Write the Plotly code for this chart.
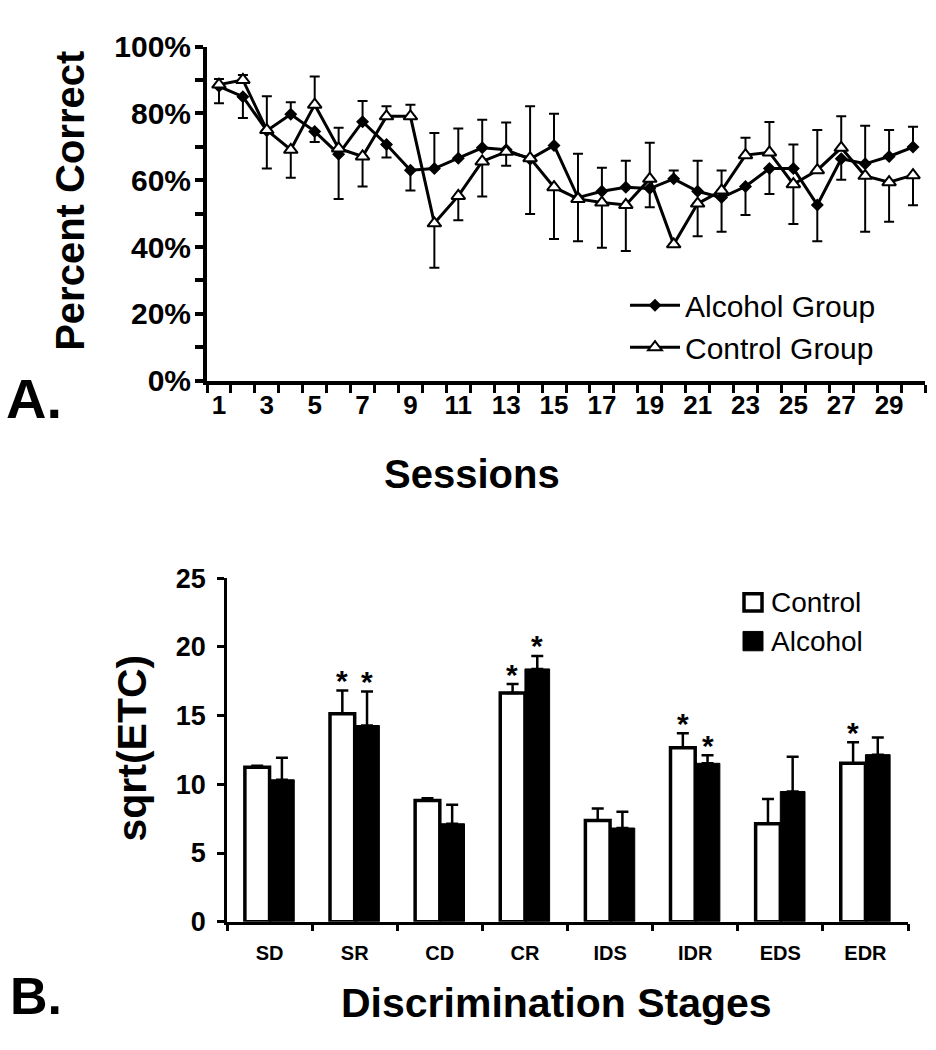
import plotly.graph_objects as go

W, H = 936, 1050
FONT = "Arial, 'Liberation Sans', sans-serif"


def px(x):
    return x / W


def py(y):
    return 1 - y / H


# ---------------- Panel A data ----------------
sessions = list(range(1, 31))
session_labels = list(range(1, 30, 2))
alcohol_pct = [88.1, 85.0, 74.8, 79.7, 74.6, 67.8, 77.5, 70.7, 63.0, 63.5,
               66.6, 69.7, 69.1, 66.3, 70.4, 54.8, 56.7, 57.9, 57.5, 60.4,
               56.7, 54.8, 58.1, 63.5, 63.5, 52.6, 66.4, 64.9, 67.1, 69.9]
control_pct = [88.6, 90.0, 75.0, 69.1, 82.6, 69.5, 67.1, 79.1, 79.1, 47.1,
               55.3, 65.6, 68.5, 66.6, 57.9, 54.4, 53.3, 52.6, 60.4, 40.8,
               53.0, 56.9, 67.5, 68.3, 58.8, 63.0, 69.7, 61.3, 59.4, 61.5]
alcohol_err = [5.1, 6.4, 11.3, 3.6, 3.2, 13.4, 6.2, 3.9, 6.1, 10.6,
               8.9, 8.4, 8.2, 16.4, 9.5, 13.1, 7.0, 7.9, 5.6, 2.5,
               9.1, 10.2, 8.5, 7.6, 7.2, 10.9, 6.3, 11.4, 7.9, 6.1]
control_err = [1.7, 1.5, 10.1, 8.4, 8.4, 6.2, 9.0, 3.0, 3.5, 13.3,
               7.3, 10.5, 4.2, 15.5, 15.5, 12.7, 13.5, 13.8, 10.8, 0.0,
               9.8, 6.0, 5.2, 9.1, 11.9, 12.0, 9.4, 16.7, 11.8, 9.0]

# ---------------- Panel B data ----------------
stages = ["SD", "SR", "CD", "CR", "IDS", "IDR", "EDS", "EDR"]
control_etc = [11.25, 15.13, 8.82, 16.64, 7.37, 12.66, 7.13, 11.53]
control_etc_err = [0.1, 1.7, 0.17, 0.66, 0.87, 1.06, 1.81, 1.53]
alcohol_etc = [10.33, 14.28, 7.13, 18.40, 6.82, 11.53, 9.48, 12.16]
alcohol_etc_err = [1.6, 2.47, 1.39, 0.94, 1.18, 0.59, 2.52, 1.25]
control_sig = [False, True, False, True, False, True, False, True]
alcohol_sig = [False, True, False, True, False, True, False, False]

# upper group shows upward error, lower group shows downward error
alc_plus = [e if a > c else 0 for a, c, e in zip(alcohol_pct, control_pct, alcohol_err)]
alc_minus = [e if a <= c else 0 for a, c, e in zip(alcohol_pct, control_pct, alcohol_err)]
con_plus = [e if c >= a else 0 for a, c, e in zip(alcohol_pct, control_pct, control_err)]
con_minus = [e if c < a else 0 for a, c, e in zip(alcohol_pct, control_pct, control_err)]

fig = go.Figure()

fig.add_trace(go.Scatter(
    x=sessions, y=alcohol_pct, mode="lines+markers", name="Alcohol Group",
    line=dict(color="black", width=3),
    marker=dict(symbol="diamond", size=10, color="black"),
    error_y=dict(type="data", symmetric=False, array=alc_plus, arrayminus=alc_minus,
                 color="black", thickness=2, width=5),
    xaxis="x", yaxis="y", cliponaxis=False,
))
fig.add_trace(go.Scatter(
    x=sessions, y=control_pct, mode="lines+markers", name="Control Group",
    line=dict(color="black", width=3),
    marker=dict(symbol="triangle-up", size=12, color="white",
                line=dict(color="black", width=2)),
    error_y=dict(type="data", symmetric=False, array=con_plus, arrayminus=con_minus,
                 color="black", thickness=2, width=5),
    xaxis="x", yaxis="y", cliponaxis=False,
))

fig.add_trace(go.Bar(
    x=stages, y=control_etc, name="Control", showlegend=False,
    marker=dict(color="white", line=dict(color="black", width=3.5)),
    error_y=dict(type="data", symmetric=False, array=control_etc_err,
                 arrayminus=[0] * len(stages), color="black", thickness=2.5, width=6),
    xaxis="x2", yaxis="y2",
))
fig.add_trace(go.Bar(
    x=stages, y=alcohol_etc, name="Alcohol", showlegend=False,
    marker=dict(color="black", line=dict(color="black", width=1)),
    error_y=dict(type="data", symmetric=False, array=alcohol_etc_err,
                 arrayminus=[0] * len(stages), color="black", thickness=2.5, width=6),
    xaxis="x2", yaxis="y2",
))

annotations = []


def note(text, x, y, size, angle=0, xanchor="center", bold=True):
    annotations.append(dict(
        text=text, x=x, y=y, xref="paper", yref="paper", showarrow=False,
        textangle=angle, xanchor=xanchor, yanchor="middle",
        font=dict(family=FONT, size=size, color="black",
                  weight="bold" if bold else "normal"),
    ))


note("Percent Correct", px(70), py(190), 40, angle=-90)
note("Sessions", px(472), py(472), 40)
note("A.", px(4), py(394), 56, xanchor="left")
note("sqrt(ETC)", px(132), py(756), 41, angle=-90)
note("Discrimination Stages", px(556), py(1019), 41)
note("B.", px(8), py(1012), 52, xanchor="left")

# manual legend for panel B
note("Control", px(769), py(605), 28, xanchor="left", bold=False)
note("Alcohol", px(769), py(645), 28, xanchor="left", bold=False)
shapes = [
    dict(type="rect", xref="paper", yref="paper", x0=px(744), x1=px(762),
         y0=py(614), y1=py(596), fillcolor="white", line=dict(color="black", width=3.5)),
    dict(type="rect", xref="paper", yref="paper", x0=px(743), x1=px(763),
         y0=py(655), y1=py(635), fillcolor="black", line=dict(color="black", width=1)),
]

# significance asterisks
for i, s in enumerate(stages):
    if control_sig[i]:
        annotations.append(dict(
            text="*", x=s, y=control_etc[i] + control_etc_err[i], xref="x2", yref="y2",
            xshift=-12.5, yshift=10, showarrow=False, yanchor="middle",
            font=dict(family=FONT, size=30, color="black", weight="bold")))
    if alcohol_sig[i]:
        annotations.append(dict(
            text="*", x=s, y=alcohol_etc[i] + alcohol_etc_err[i], xref="x2", yref="y2",
            xshift=12.5, yshift=10, showarrow=False, yanchor="middle",
            font=dict(family=FONT, size=30, color="black", weight="bold")))

fig.update_layout(
    width=W, height=H,
    margin=dict(l=0, r=0, t=0, b=0),
    paper_bgcolor="white", plot_bgcolor="white",
    font=dict(family=FONT, color="black"),
    barmode="group", bargap=0.42, bargroupgap=0,
    showlegend=True,
    legend=dict(x=px(625), y=py(271), xanchor="left", yanchor="top",
                font=dict(family=FONT, size=30, color="black"),
                bgcolor="rgba(0,0,0,0)", itemwidth=50, tracegroupgap=0),
    annotations=annotations,
    shapes=shapes,
    xaxis=dict(
        domain=[px(207), px(925)], range=[0.5, 30.5], anchor="y",
        tickmode="array", tickvals=session_labels, ticks="",
        showline=True, linecolor="black", linewidth=4,
        showgrid=False, zeroline=False,
        tickfont=dict(family=FONT, size=26, color="black", weight="bold"),
        ticklabelstandoff=-2,
        minor=dict(tickmode="linear", tick0=0.5, dtick=1, ticks="outside",
                   ticklen=8, tickwidth=3, tickcolor="black", showgrid=False),
    ),
    yaxis=dict(
        domain=[py(375.9), py(30.5)], range=[0, 100], anchor="x",
        tickmode="linear", tick0=0, dtick=20, ticksuffix="%",
        ticks="outside", ticklen=8, tickwidth=3.5, tickcolor="black",
        showline=True, linecolor="black", linewidth=4,
        showgrid=False, zeroline=False,
        tickfont=dict(family=FONT, size=30, color="black", weight="bold"),
        ticklabelstandoff=-2,
        minor=dict(tickmode="linear", tick0=0, dtick=10, ticks="outside",
                   ticklen=8, tickwidth=3.5, tickcolor="black", showgrid=False),
    ),
    xaxis2=dict(
        domain=[px(227), px(908)], anchor="y2", type="category",
        tickson="boundaries", ticks="outside", ticklen=7, tickwidth=2.5,
        tickcolor="black", showline=True, linecolor="black", linewidth=2.5,
        showgrid=False, zeroline=False,
        tickfont=dict(family=FONT, size=20, color="black", weight="bold"),
        ticklabelstandoff=12,
    ),
    yaxis2=dict(
        domain=[py(935), py(580)], range=[0, 25], anchor="x2",
        tickmode="linear", tick0=0, dtick=5,
        ticks="outside", ticklen=7, tickwidth=2.5, tickcolor="black",
        showline=True, linecolor="black", linewidth=2.5,
        showgrid=False, zeroline=False,
        tickfont=dict(family=FONT, size=27, color="black", weight="bold"),
        ticklabelstandoff=6,
    ),
)

fig.write_html(
    "out.html",
    config={"displayModeBar": False},
    post_script="document.body.style.margin='0';document.body.style.overflow='hidden';",
)
